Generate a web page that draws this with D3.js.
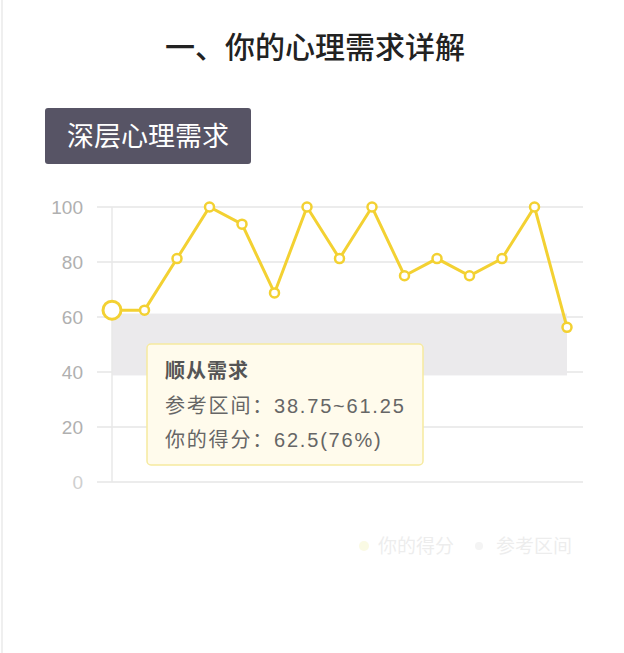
<!DOCTYPE html>
<html><head><meta charset="utf-8">
<script src="https://cdn.jsdelivr.net/npm/d3@7"></script>
<style>
html,body{margin:0;padding:0;background:#fff;}
svg{display:block;font-family:"Liberation Sans","Noto Sans CJK SC",sans-serif;}
</style></head><body>
<svg id="c" width="624" height="653"></svg>
<script>
const categories = ["顺从需求","需求2","需求3","需求4","需求5","需求6","需求7","需求8","需求9","需求10","需求11","需求12","需求13","需求14","需求15"];
const scores = [62.5,62.5,81.25,100,93.75,68.75,100,81.25,100,75,81.25,75,81.25,100,56.25];
const refRange = [38.75,61.25];
const yTicks = [0,20,40,60,80,100];
const title = "一、你的心理需求详解";
const sectionLabel = "深层心理需求";
const tooltipLines = ["顺从需求","参考区间：38.75~61.25","你的得分：62.5(76%)"];
const legendItems = ["你的得分","参考区间"];

const svg = d3.select("#c");
const yellow = "#f3d132";
const cjk = "Noto Sans CJK SC, sans-serif";

svg.append("line").attr("x1",2).attr("x2",2).attr("y1",0).attr("y2",653).attr("stroke","#efefef").attr("stroke-width",2);

svg.append("text").attr("x",315).attr("y",58).attr("text-anchor","middle").attr("font-family",cjk)
  .attr("font-size",30).attr("font-weight",500).attr("fill","#222").text(title);

svg.append("rect").attr("x",45).attr("y",108).attr("width",206).attr("height",56).attr("rx",3).attr("fill","#575465");
svg.append("text").attr("x",148).attr("y",146).attr("text-anchor","middle").attr("font-family",cjk)
  .attr("font-size",27).attr("fill","#fff").text(sectionLabel);

const x = d3.scalePoint().domain(categories).range([112,567]);
const y = d3.scaleLinear().domain([0,100]).range([482,207]);

const grid = svg.append("g");
grid.selectAll("line").data(yTicks).join("line")
  .attr("x1",97).attr("x2",583).attr("y1",d=>y(d)).attr("y2",d=>y(d))
  .attr("stroke","#e6e6e6").attr("stroke-width",1.5);

const yAxis = d3.axisLeft(y).tickValues(yTicks).tickSize(0).tickPadding(0);
const ya = svg.append("g").attr("transform","translate(83,0)").call(yAxis);
ya.select(".domain").remove();
ya.selectAll("text").attr("font-size",19).attr("fill",d=>d===0?"#cfcfcf":"#b0b0b0")
  .attr("font-family","Liberation Sans, sans-serif").attr("dy","0.36em");

svg.append("rect").attr("x",x(categories[0])).attr("width",x(categories[categories.length-1])-x(categories[0]))
  .attr("y",y(refRange[1])).attr("height",y(refRange[0])-y(refRange[1])).attr("fill","#ebeaec");

svg.append("line").attr("x1",112).attr("x2",112).attr("y1",y(100)).attr("y2",y(0)).attr("stroke","#e8e8e8").attr("stroke-width",1.5);

const line = d3.line().x((d,i)=>x(categories[i])).y(d=>y(d));
svg.append("path").datum(scores).attr("d",line).attr("fill","none").attr("stroke",yellow).attr("stroke-width",3);

svg.selectAll("circle.pt").data(scores).join("circle").attr("class","pt")
  .attr("cx",(d,i)=>x(categories[i])).attr("cy",d=>y(d))
  .attr("r",(d,i)=>i===0?9:4.5).attr("fill","#fff").attr("stroke",yellow).attr("stroke-width",(d,i)=>i===0?3:2.5);

svg.append("rect").attr("x",147).attr("y",344).attr("width",276).attr("height",121).attr("rx",4)
  .attr("fill","#fffbec").attr("stroke","#f6ea9f").attr("stroke-width",1.5);
svg.append("text").attr("x",165).attr("y",378).attr("font-size",20).attr("letter-spacing",1).attr("font-weight",700).attr("font-family",cjk).attr("fill","#555").text(tooltipLines[0]);
svg.append("text").attr("x",165).attr("y",413).attr("font-size",20).attr("letter-spacing",1.8).attr("fill","#666").text(tooltipLines[1]);
svg.append("text").attr("x",165).attr("y",447).attr("font-size",20).attr("letter-spacing",1.8).attr("fill","#666").text(tooltipLines[2]);

const lg = svg.append("g").attr("opacity",0.1);
lg.append("circle").attr("cx",364).attr("cy",546).attr("r",5).attr("fill","#d8d000");
lg.append("text").attr("x",378).attr("y",553).attr("font-size",19).attr("font-family",cjk).attr("fill","#555").text(legendItems[0]);
lg.append("circle").attr("cx",479).attr("cy",546).attr("r",4).attr("fill","#999");
lg.append("text").attr("x",496).attr("y",553).attr("font-size",19).attr("font-family",cjk).attr("fill","#555").text(legendItems[1]);
</script>
</body></html>
